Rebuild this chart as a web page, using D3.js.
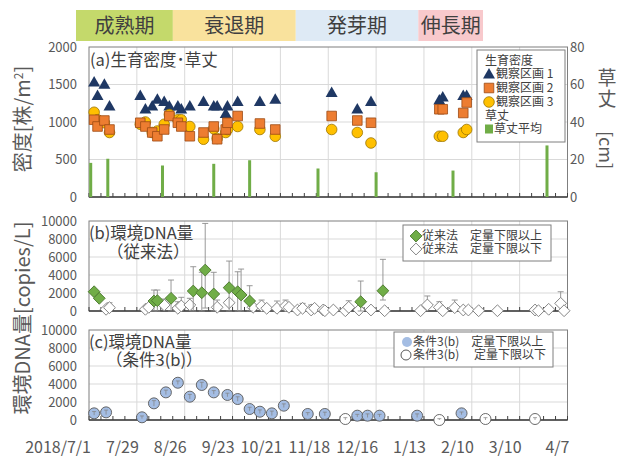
<!DOCTYPE html>
<html lang="ja">
<head>
<meta charset="utf-8">
<title>生育密度・環境DNA量</title>
<script src="https://cdn.jsdelivr.net/npm/d3@7"></script>
<style>
  body { margin: 0; background: #fff; }
  text { font-family: "Noto Sans CJK JP", "Noto Sans", sans-serif; }
</style>
</head>
<body>
<svg id="chart" width="617" height="456"></svg>
<script>
// ---- data ----
var phaseNames = ["成熟期", "衰退期", "発芽期", "伸長期"];
var phaseEdges = [0, 0.238, 0.540, 0.841, 1];   // share of the banner width
var phaseColors = ["#c4d96b", "#f9e29d", "#deeaf5", "#f8c9cc"];

var xTickLabels = ["2018/7/1", "7/29", "8/26", "9/23", "10/21", "11/18", "12/16", "1/13", "2/10", "3/10", "4/7"];

// (a) 生育密度 [株/m2]
var surveyDates = ["2018/7/4","2018/7/6","2018/7/10","2018/7/13","2018/7/31","2018/8/3","2018/8/7","2018/8/10",
  "2018/8/14","2018/8/17","2018/8/22","2018/8/24","2018/8/29","2018/9/6","2018/9/12","2018/9/14","2018/9/19",
  "2018/9/20","2018/9/26","2018/10/9","2018/10/18","2018/11/20","2018/12/5","2018/12/13","2019/1/22",
  "2019/1/24","2019/2/5","2019/2/7"];
var plot1 = [1520,1340,1490,1200,1340,1160,1200,1290,1260,1200,1200,1160,1200,1260,1200,1200,1100,1200,1260,1260,1290,1380,1160,1260,1280,1320,1340,1340];
var plot2 = [1030,940,1020,900,990,940,860,810,900,1080,990,940,810,860,940,770,900,990,1080,980,900,1080,1020,990,1170,1170,1120,1260];
var plot3 = [1130,1030,990,860,970,1000,860,880,970,1100,1030,1030,940,770,910,780,860,900,940,900,810,900,860,720,810,810,860,900];

// (a) 草丈平均 [cm]
var heightDates = ["2018/7/2","2018/7/12","2018/8/13","2018/9/12","2018/10/3","2018/11/12","2018/12/16","2019/1/30","2019/3/26"];
var heightAvg = [18.2, 20.4, 16.8, 17.7, 19.6, 15.2, 13.2, 14.1, 27.5];

// (b) 従来法, above quantification limit
var convDates = ["2018/7/4","2018/7/7","2018/8/8","2018/8/10","2018/8/18","2018/8/31","2018/9/5","2018/9/7",
  "2018/9/12","2018/9/21","2018/9/26","2018/9/28","2018/10/3","2018/12/7","2018/12/20"];
var convValues = [2140,1410,1110,1150,1410,2220,2030,4550,1890,2590,2140,1780,1110,1030,2250];
var convHi = [2140,1410,2330,2330,3440,4920,4300,9730,4300,5550,4360,4660,2810,3330,5740];
var convLo = [2140,1410,0,0,0,0,0,330,0,0,0,0,0,0,1220];

// (b) 従来法, below quantification limit
var belowDates = ["2018/7/11","2018/7/13","2018/8/3","2018/8/5","2018/8/14","2018/8/22","2018/8/24","2018/8/29",
  "2018/9/14","2018/9/21","2018/10/5","2018/10/10","2018/10/13","2018/10/19","2018/10/24","2018/10/26",
  "2018/10/31","2018/11/3","2018/11/8","2018/11/10","2018/11/15","2018/11/16","2018/11/21","2018/11/28",
  "2018/11/30","2018/12/6","2018/12/13","2018/12/21","2019/1/11","2019/1/15","2019/1/22","2019/1/24",
  "2019/1/31","2019/2/5","2019/2/8","2019/2/14","2019/2/25","2019/3/19","2019/3/21","2019/3/27","2019/4/3","2019/4/5"];
var belowValues = [190,370,190,410,670,300,560,670,410,920,410,560,300,300,560,410,110,300,110,300,
  110,30,110,30,410,110,110,30,30,670,410,30,370,110,110,30,30,110,30,190,850,30];
var belowHi = [190,920,190,550,1330,1030,1520,1410,1220,920,410,1220,300,1110,1220,410,110,850,670,300,
  110,30,110,30,1140,110,110,30,30,1670,1030,30,1220,110,110,30,30,110,30,190,2140,30];

// (c) 条件3(b)
var cond3Dates = ["2018/7/4","2018/7/11","2018/8/1","2018/8/8","2018/8/15","2018/8/22","2018/8/29","2018/9/5",
  "2018/9/12","2018/9/20","2018/9/26","2018/10/3","2018/10/9","2018/10/16","2018/10/23","2018/11/6",
  "2018/11/16","2018/12/5","2018/12/11","2018/12/18","2019/1/9","2019/2/4"];
var cond3Values = [740,850,300,1850,3070,4140,2590,3890,3070,2780,2330,1220,920,740,1590,670,670,480,480,480,480,740];
var cond3Err = [200,250,150,300,250,200,250,300,200,200,250,200,200,250,200,150,200,150,200,150,200,150];
var cond3BelowDates = ["2018/11/28","2019/1/22","2019/2/18","2019/3/19"];
var cond3BelowValues = [110, 0, 110, 110];
var cond3BelowErr = [150, 150, 150, 150];

// ---- setup ----
var parse = d3.timeParse("%Y/%m/%d");
var start = parse("2018/7/1"), end = parse("2019/4/7");
var svg = d3.select("#chart");
var grey = "#595959", dark = "#404040";

var x = d3.scaleTime().domain([start, end]).range([89, 567.5]);
var tickDates = xTickLabels.map(function(d, i){ return d3.timeDay.offset(start, 28 * i); });
var weekDates = d3.timeDay.range(start, d3.timeDay.offset(end, 1), 7);

var yA = d3.scaleLinear().domain([0, 2000]).range([197, 47]);
var yH = d3.scaleLinear().domain([0, 80]).range([197, 47]);
var yB = d3.scaleLinear().domain([0, 10000]).range([311, 221]);
var yC = d3.scaleLinear().domain([0, 10000]).range([420, 330]);

// banner
var bx = d3.scaleLinear().domain([0, 1]).range([76, 483]);
var banner = svg.append("g");
phaseNames.forEach(function(name, i){
  banner.append("rect")
    .attr("x", bx(phaseEdges[i])).attr("y", 10)
    .attr("width", bx(phaseEdges[i+1]) - bx(phaseEdges[i])).attr("height", 31)
    .attr("fill", phaseColors[i]);
  banner.append("text")
    .attr("x", (bx(phaseEdges[i]) + bx(phaseEdges[i+1])) / 2).attr("y", 26).attr("dy", "0.35em")
    .attr("text-anchor", "middle")
    .attr("font-size", 20).attr("fill", dark).text(name);
});

// panel frame with grid, axis and tick labels
function frame(y, step){
  var g = svg.append("g");
  var r = y.range(), top = r[1], bottom = r[0];
  var yt = d3.range(y.domain()[0], y.domain()[1] + 1, step);
  g.selectAll(".hg").data(yt.slice(1, -1)).join("line")
    .attr("x1", x.range()[0]).attr("x2", x.range()[1])
    .attr("y1", d => y(d)).attr("y2", d => y(d))
    .attr("stroke", "#d9d9d9");
  g.selectAll(".vg").data(tickDates.slice(1, -1)).join("line")
    .attr("x1", d => x(d)).attr("x2", d => x(d))
    .attr("y1", top).attr("y2", bottom)
    .attr("stroke", "#d9d9d9");
  g.append("rect")
    .attr("x", x.range()[0]).attr("y", top)
    .attr("width", x.range()[1] - x.range()[0]).attr("height", bottom - top)
    .attr("fill", "none").attr("stroke", "#7f7f7f");
  g.append("line")
    .attr("x1", x.range()[0]).attr("x2", x.range()[1])
    .attr("y1", bottom).attr("y2", bottom)
    .attr("stroke", dark).attr("stroke-width", 1.5);
  g.selectAll(".mt").data(weekDates).join("line")
    .attr("x1", d => x(d)).attr("x2", d => x(d))
    .attr("y1", bottom).attr("y2", bottom - 4)
    .attr("stroke", dark);
  g.selectAll(".yl").data(yt).join("text")
    .attr("x", 77).attr("y", d => y(d)).attr("dy", "0.35em")
    .attr("text-anchor", "end")
    .attr("font-size", 13).attr("fill", grey).text(d => d);
  return g;
}

// ---- (a) ----
frame(yA, 500);
svg.append("g").selectAll("text").data(d3.range(0, 81, 20)).join("text")
  .attr("x", 570).attr("y", d => yH(d)).attr("dy", "0.35em")
  .attr("font-size", 13).attr("fill", grey).text(d => d);

svg.append("g").selectAll("rect").data(heightDates).join("rect")
  .attr("x", d => x(parse(d)) - 1.5).attr("width", 3)
  .attr("y", (d, i) => yH(heightAvg[i]))
  .attr("height", (d, i) => yH(0) - yH(heightAvg[i]))
  .attr("fill", "#70ad47");

var tri = d3.symbol().type(d3.symbolTriangle).size(62);
var sq = d3.symbol().type(d3.symbolSquare).size(92);

svg.append("g").selectAll("path").data(surveyDates).join("path")
  .attr("d", tri)
  .attr("transform", (d, i) => "translate(" + x(parse(d)) + "," + yA(plot1[i]) + ")")
  .attr("fill", "#1f3864");
svg.append("g").selectAll("circle").data(surveyDates).join("circle")
  .attr("cx", d => x(parse(d))).attr("cy", (d, i) => yA(plot3[i])).attr("r", 5.3)
  .attr("fill", "#ffc000").attr("stroke", "#9a7400").attr("stroke-width", 0.8);
svg.append("g").selectAll("path").data(surveyDates).join("path")
  .attr("d", sq)
  .attr("transform", (d, i) => "translate(" + x(parse(d)) + "," + yA(plot2[i]) + ")")
  .attr("fill", "#ed7d31").attr("stroke", "#9c4a14").attr("stroke-width", 0.8);

svg.append("text").attr("x", 90).attr("y", 60).attr("dy", "0.35em")
  .attr("font-size", 16.5).attr("fill", dark).text("(a)生育密度･草丈");

// legend (a)
var la = svg.append("g");
la.append("rect").attr("x", 477).attr("y", 50).attr("width", 88).attr("height", 92)
  .attr("fill", "#fff").attr("stroke", "#7f7f7f");
var laRows = [
  {t: "生育密度", y: 61, m: null},
  {t: "観察区画 1", y: 74, m: "tri"},
  {t: "観察区画 2", y: 88, m: "sq"},
  {t: "観察区画 3", y: 102, m: "circ"},
  {t: "草丈", y: 116, m: null},
  {t: "草丈平均", y: 129, m: "bar"}
];
laRows.forEach(function(r){
  var tx = r.m ? 496 : 485;
  if (r.m === "tri") la.append("path").attr("d", tri).attr("transform", "translate(489," + (r.y + 1) + ")").attr("fill", "#1f3864");
  if (r.m === "sq") la.append("path").attr("d", sq).attr("transform", "translate(489," + r.y + ")").attr("fill", "#ed7d31").attr("stroke", "#9c4a14").attr("stroke-width", 0.8);
  if (r.m === "circ") la.append("circle").attr("cx", 489).attr("cy", r.y).attr("r", 5.3).attr("fill", "#ffc000").attr("stroke", "#9a7400").attr("stroke-width", 0.8);
  if (r.m === "bar") { la.append("rect").attr("x", 485).attr("y", r.y - 4.5).attr("width", 8).attr("height", 9).attr("fill", "#70ad47"); tx = 494; }
  la.append("text").attr("x", tx).attr("y", r.y).attr("dy", "0.35em")
    .attr("font-size", 12).attr("fill", dark).text(r.t);
});

// axis titles
svg.append("text").attr("transform", "translate(23," + 119 + ") rotate(-90)")
  .attr("text-anchor", "middle").attr("dy", "0.35em")
  .attr("font-size", 20).attr("fill", grey)
  .call(function(t){
    t.append("tspan").text("密度[株/m");
    t.append("tspan").attr("font-size", 12).attr("dy", -7).text("2");
    t.append("tspan").attr("dy", 7).text("]");
  });
svg.append("text").attr("x", 607).attr("y", 78).attr("dy", "0.35em").attr("text-anchor", "middle")
  .attr("font-size", 19).attr("fill", grey).text("草");
svg.append("text").attr("x", 607).attr("y", 99).attr("dy", "0.35em").attr("text-anchor", "middle")
  .attr("font-size", 19).attr("fill", grey).text("丈");
svg.append("text").attr("transform", "translate(605,150) rotate(90)")
  .attr("text-anchor", "middle").attr("dy", "0.35em")
  .attr("font-size", 18).attr("fill", grey).text("[cm]");
svg.append("text").attr("transform", "translate(23," + 318 + ") rotate(-90)")
  .attr("text-anchor", "middle").attr("dy", "0.35em")
  .attr("font-size", 20).attr("fill", grey).text("環境DNA量[copies/L]");

// ---- (b) ----
frame(yB, 2000);
var dia = d3.symbol().type(d3.symbolSquare).size(70);
function errBars(g, dates, lo, hi, y, col){
  dates.forEach(function(d, i){
    var cx = x(parse(d));
    if (hi[i] === lo[i]) return;
    g.append("line").attr("x1", cx).attr("x2", cx).attr("y1", y(lo[i])).attr("y2", y(hi[i]))
      .attr("stroke", col).attr("stroke-width", 0.9);
    [lo[i], hi[i]].forEach(function(v){
      g.append("line").attr("x1", cx - 3).attr("x2", cx + 3).attr("y1", y(v)).attr("y2", y(v))
        .attr("stroke", col).attr("stroke-width", 0.9);
    });
  });
}
var gb = svg.append("g");
errBars(gb, belowDates, belowValues, belowHi, yB, "#8c8c8c");
gb.selectAll(".wd").data(belowDates).join("path")
  .attr("d", dia)
  .attr("transform", (d, i) => "translate(" + x(parse(d)) + "," + yB(belowValues[i]) + ") rotate(45)")
  .attr("fill", "#fff").attr("stroke", "#7f7f7f").attr("stroke-width", 0.9);
errBars(gb, convDates, convLo, convHi, yB, "#8c8c8c");
gb.selectAll(".gd").data(convDates).join("path")
  .attr("d", dia)
  .attr("transform", (d, i) => "translate(" + x(parse(d)) + "," + yB(convValues[i]) + ") rotate(45)")
  .attr("fill", "#70ad47").attr("stroke", "#4e7a31").attr("stroke-width", 0.9);

svg.append("text").attr("x", 89).attr("y", 233).attr("dy", "0.35em")
  .attr("font-size", 16.5).attr("fill", dark).text("(b)環境DNA量");
svg.append("text").attr("x", 107).attr("y", 252).attr("dy", "0.35em")
  .attr("font-size", 16.5).attr("fill", dark).text("（従来法）");

var lb = svg.append("g");
lb.append("rect").attr("x", 403).attr("y", 225).attr("width", 148).attr("height", 36)
  .attr("fill", "#fff").attr("stroke", "#7f7f7f");
[{y: 236, f: "#70ad47", s: "#4e7a31", t: "従来法　定量下限以上"},
 {y: 249, f: "#fff", s: "#7f7f7f", t: "従来法　定量下限以下"}].forEach(function(r){
  lb.append("path").attr("d", dia).attr("transform", "translate(416," + r.y + ") rotate(45)")
    .attr("fill", r.f).attr("stroke", r.s).attr("stroke-width", 0.9);
  lb.append("text").attr("x", 422).attr("y", r.y).attr("dy", "0.35em")
    .attr("font-size", 12).attr("fill", dark).text(r.t);
});

// ---- (c) ----
frame(yC, 2000);
var gc = svg.append("g");
function circles(dates, vals, errs, fill){
  dates.forEach(function(d, i){
    var cx = x(parse(d)), cy = yC(vals[i]);
    gc.append("circle").attr("cx", cx).attr("cy", cy).attr("r", 5.5)
      .attr("fill", fill).attr("stroke", "#595959").attr("stroke-width", 0.9);
    var t = yC(vals[i] + errs[i]), b = yC(Math.max(0, vals[i] - errs[i]));
    gc.append("line").attr("x1", cx).attr("x2", cx).attr("y1", t).attr("y2", b).attr("stroke", "#7f7f7f").attr("stroke-width", 0.7);
    gc.append("line").attr("x1", cx - 2).attr("x2", cx + 2).attr("y1", t).attr("y2", t).attr("stroke", "#7f7f7f").attr("stroke-width", 0.7);
  });
}
circles(cond3BelowDates, cond3BelowValues, cond3BelowErr, "#fff");
circles(cond3Dates, cond3Values, cond3Err, "#a4bde3");

svg.append("text").attr("x", 89).attr("y", 342).attr("dy", "0.35em")
  .attr("font-size", 16.5).attr("fill", dark).text("(c)環境DNA量");
svg.append("text").attr("x", 106).attr("y", 360).attr("dy", "0.35em")
  .attr("font-size", 16.5).attr("fill", dark).text("（条件3(b)）");

var lc = svg.append("g");
lc.append("rect").attr("x", 394).attr("y", 332).attr("width", 159).attr("height", 35)
  .attr("fill", "#fff").attr("stroke", "#7f7f7f");
lc.append("circle").attr("cx", 407).attr("cy", 342).attr("r", 5).attr("fill", "#a4bde3");
lc.append("text").attr("x", 413).attr("y", 342).attr("dy", "0.35em")
  .attr("font-size", 12).attr("fill", dark).text("条件3(b)　定量下限以上");
lc.append("circle").attr("cx", 406).attr("cy", 355).attr("r", 5).attr("fill", "#fff").attr("stroke", "#595959");
lc.append("text").attr("x", 413).attr("y", 355).attr("dy", "0.35em")
  .attr("font-size", 12).attr("fill", dark).text("条件3(b)　 定量下限以下");

// ---- x tick labels ----
svg.append("g").selectAll("text").data(tickDates).join("text")
  .attr("x", d => x(d) + 2).attr("y", 447).attr("dy", "0.35em")
  .attr("text-anchor", "end")
  .attr("font-size", 16).attr("fill", grey)
  .text((d, i) => xTickLabels[i]);
</script>
</body>
</html>
